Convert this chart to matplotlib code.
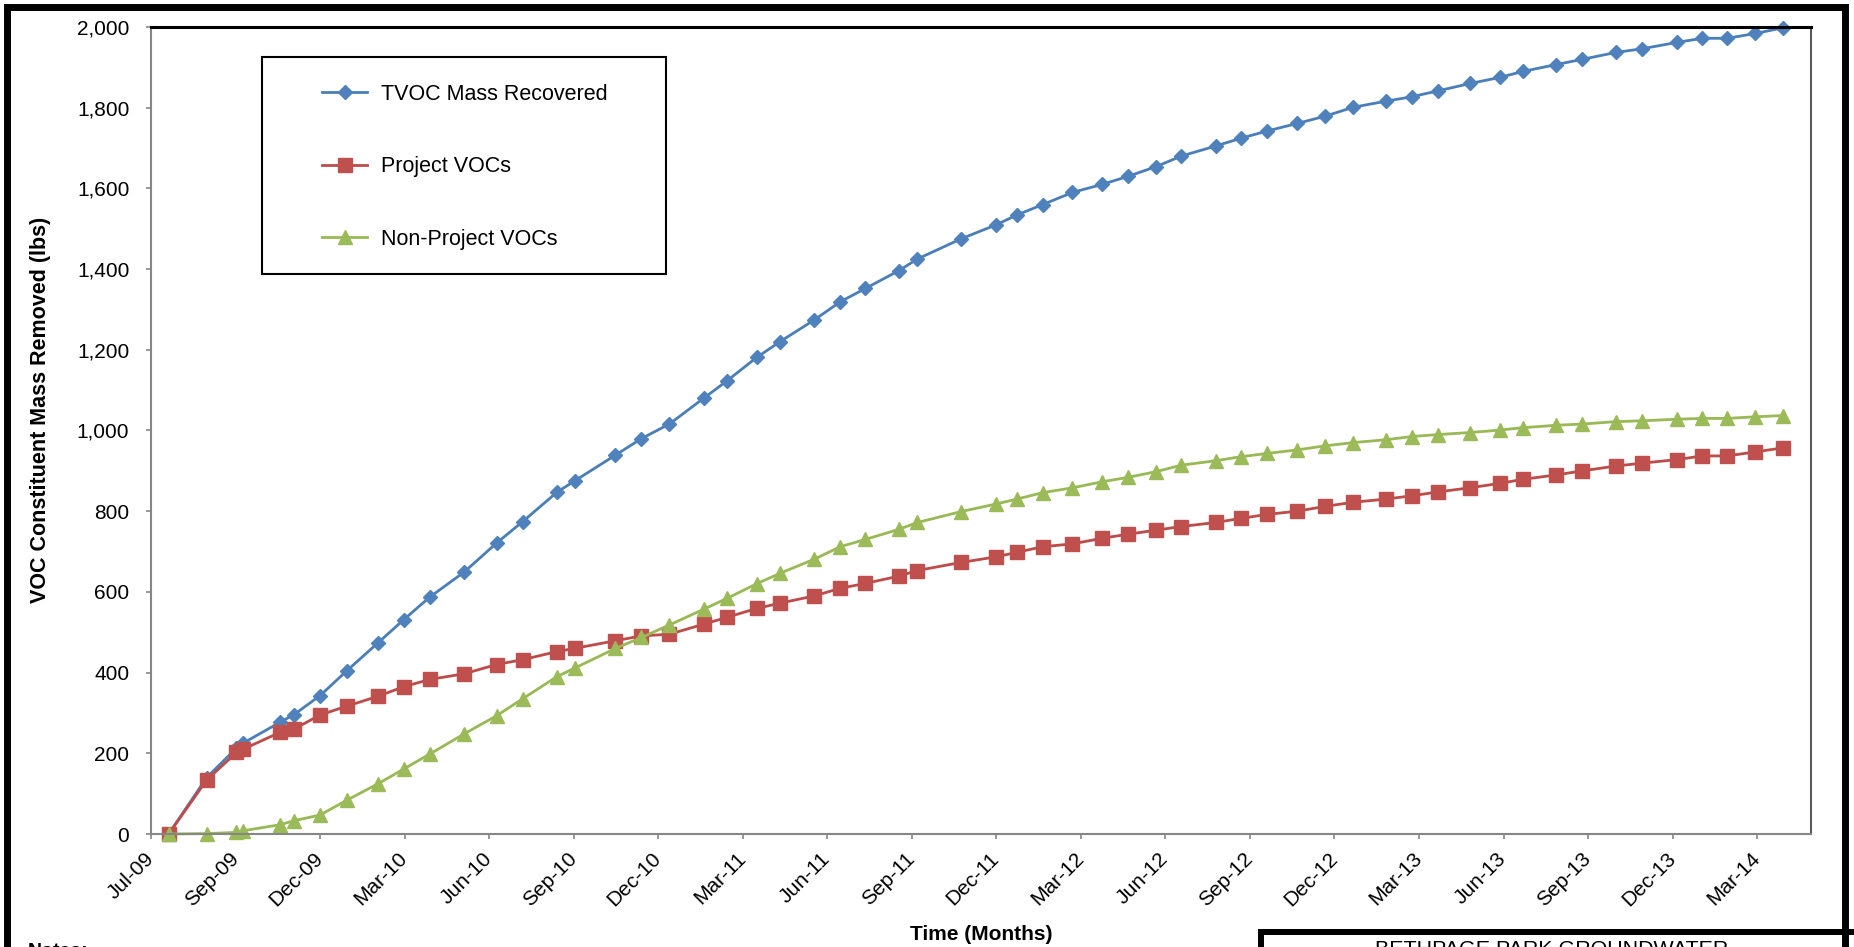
import matplotlib.pyplot as plt
import numpy as np
import pandas as pd
from matplotlib.patches import Rectangle

plt.rcParams['font.family'] = ['Liberation Sans', 'DejaVu Sans']

# sampling dates and cumulative mass removed (lbs)
dates = [
    "2009-07-20", "2009-08-30", "2009-10-01", "2009-10-08", "2009-11-17", "2009-12-02", "2009-12-30",
    "2010-01-28", "2010-03-02", "2010-03-30", "2010-04-27", "2010-06-03", "2010-07-08", "2010-08-05",
    "2010-09-11", "2010-09-30", "2010-11-13", "2010-12-11", "2011-01-10", "2011-02-16", "2011-03-13",
    "2011-04-14", "2011-05-09", "2011-06-15", "2011-07-13", "2011-08-09", "2011-09-14", "2011-10-04",
    "2011-11-20", "2011-12-28", "2012-01-19", "2012-02-16", "2012-03-19", "2012-04-20", "2012-05-18",
    "2012-06-17", "2012-07-14", "2012-08-20", "2012-09-16", "2012-10-14", "2012-11-16", "2012-12-16",
    "2013-01-15", "2013-02-19", "2013-03-19", "2013-04-17", "2013-05-21", "2013-06-22", "2013-07-17",
    "2013-08-22", "2013-09-19", "2013-10-25", "2013-11-22", "2013-12-30", "2014-01-26", "2014-02-22",
    "2014-03-24", "2014-04-23",
]

tvoc = [0, 140, 213, 225, 277, 296, 343, 405, 473, 531, 587, 649,
        721, 774, 847, 875,
        939, 980, 1016, 1080, 1123, 1181, 1220, 1274, 1319,
        1352, 1396, 1425, 1475, 1510, 1534, 1560, 1590, 1610, 1630, 1654, 1680,
        1705, 1724, 1742, 1761, 1779, 1801, 1816, 1827, 1842, 1860, 1875, 1890,
        1907, 1920, 1937, 1946, 1962, 1972, 1972, 1984, 1998]

project = [0, 134, 202, 210, 252, 260, 295, 317, 341, 365, 383, 397, 420, 432, 452, 460,
           479, 491, 495, 520, 537, 559, 572, 590, 609, 621, 639, 653, 673, 687, 698, 712,
           719, 733, 743, 753, 762, 772, 782, 792, 800,
           812, 822, 830, 838, 848, 858,
           869, 879, 890, 900, 912, 919, 928, 937, 937, 947, 957]

non_project = [0, 1, 4, 8, 23, 33, 47, 84, 124, 161, 198, 248, 293, 335, 390, 411,
               460, 487, 518, 557, 584, 620, 646, 681, 712, 730, 755, 772, 799, 818, 830, 846,
               858, 873, 884, 898, 914, 925, 935, 943, 952,
               962, 970, 977, 985, 990, 995,
               1001, 1007, 1013, 1016, 1022, 1024, 1028, 1030, 1030, 1034, 1037]

start = pd.Timestamp("2009-07-01")
days = (pd.to_datetime(dates) - start).days.to_numpy()

W, H = 1854, 947


def fx(px):
    return px / W


def fy(py):
    return 1 - py / H


fig = plt.figure(figsize=(W / 100, H / 100), dpi=100)
ax = fig.add_axes([fx(151), fy(834), fx(1811) - fx(151), fy(27) - fy(834)])

ax.plot(days, tvoc, color='#4A7EBB', lw=2, marker='D', ms=7,
        mfc='#4F81BD', mec='#4F81BD', label='TVOC Mass Recovered', clip_on=False)
ax.plot(days, project, color='#BE4B48', lw=2, marker='s', ms=10,
        mfc='#C0504D', mec='#C0504D', label='Project VOCs', clip_on=False)
ax.plot(days, non_project, color='#98B954', lw=2, marker='^', ms=10,
        mfc='#9BBB59', mec='#9BBB59', label='Non-Project VOCs', clip_on=False)

ax.set_xlim(0, 1787)
ax.set_ylim(0, 2000)

xt = np.arange(20) * 91
ax.set_xticks(xt)
ax.set_xticklabels([(start + pd.Timedelta(days=int(d))).strftime('%b-%y') for d in xt],
                   rotation=45, ha='right', va='center', rotation_mode='anchor')
yt = np.arange(0, 2001, 200)
ax.set_yticks(yt)
ax.set_yticklabels([f"{v:,}" for v in yt])

ax.tick_params(axis='both', direction='out', length=3.6, width=1.2, color='#868686',
               labelsize=15)
ax.tick_params(axis='x', pad=12)
ax.tick_params(axis='y', pad=12)

for s in ['left', 'bottom']:
    ax.spines[s].set_color('#868686')
    ax.spines[s].set_linewidth(1.5)
ax.spines['top'].set_color('black')
ax.spines['top'].set_linewidth(2.2)
ax.spines['right'].set_color('#595959')
ax.spines['right'].set_linewidth(1.5)

# legend with its own box
h, l = ax.get_legend_handles_labels()
fig.legend(h, l, loc='upper left', bbox_to_anchor=(fx(322), fy(84)), frameon=False,
           borderpad=0, borderaxespad=0, handlelength=2.1, handletextpad=0.65,
           labelspacing=2.39, fontsize=15.5)
fig.add_artist(Rectangle((fx(262), fy(274)), fx(666) - fx(262), fy(57) - fy(274),
                         transform=fig.transFigure, fill=False, ec='black', lw=1.5))

fig.text(fx(41), fy(410), 'VOC Constituent Mass Removed (lbs)', rotation=90,
         fontweight='bold', fontsize=15.5, ha='center', va='center')
fig.text(fx(981), fy(934), 'Time (Months)', fontweight='bold', fontsize=15,
         ha='center', va='center')

# page frame and title block (cut off at the bottom)
fig.add_artist(Rectangle((fx(7), fy(1000)), fx(1845) - fx(7), fy(7) - fy(1000),
                         transform=fig.transFigure, fill=False, ec='black', lw=5))
fig.add_artist(Rectangle((fx(1261), fy(1000)), fx(1900) - fx(1261), fy(932) - fy(1000),
                         transform=fig.transFigure, fill=False, ec='black', lw=4.3))
fig.text(fx(1552), fy(940), 'BETHPAGE PARK GROUNDWATER', fontsize=15.4,
         ha='center', va='top')
fig.text(fx(28), fy(943), 'Notes:', fontsize=14, fontweight='bold', ha='left', va='top')

fig.savefig('out.png', dpi=100)
